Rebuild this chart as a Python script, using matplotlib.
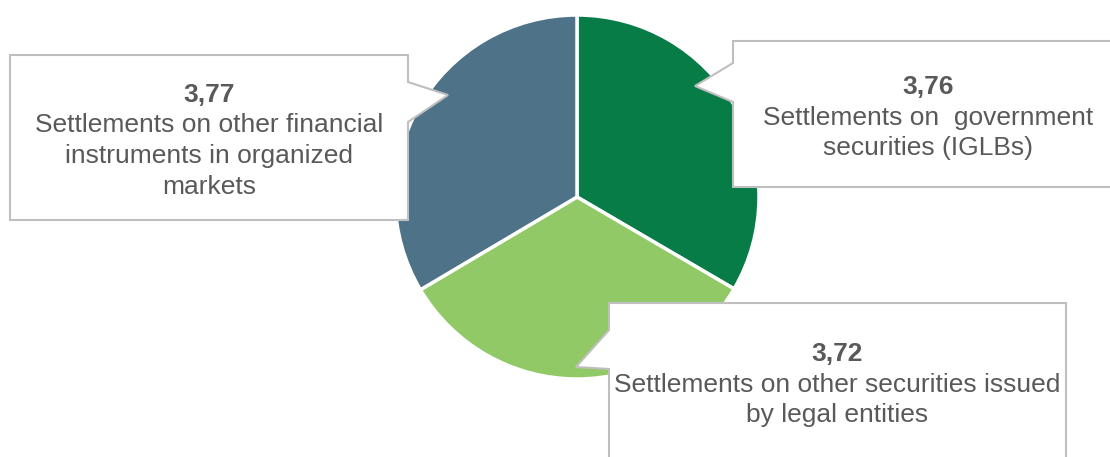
import matplotlib
matplotlib.use("Agg")
import matplotlib.pyplot as plt
from matplotlib.patches import Polygon

# ---- data ----
categories = [
    "Settlements on  government\nsecurities (IGLBs)",
    "Settlements on other securities issued\nby legal entities",
    "Settlements on other financial\ninstruments in organized\nmarkets",
]
values = [3.76, 3.72, 3.77]
value_labels = ["3,76", "3,72", "3,77"]
colors = ["#087C47", "#92C967", "#4E7389"]

W, H = 1110, 457
plt.rcParams['font.family'] = ['Liberation Sans', 'DejaVu Sans']
fig = plt.figure(figsize=(W / 100, H / 100), dpi=100)
ax = fig.add_axes([0, 0, 1, 1])
ax.set_xlim(0, W)
ax.set_ylim(0, H)
ax.set_aspect('equal')
ax.axis('off')

def Y(y):
    return H - y

ax.pie(values, colors=colors, startangle=90, counterclock=False,
       center=(577, Y(197)), radius=182,
       wedgeprops=dict(edgecolor='white', linewidth=2.5))
ax.set_xlim(0, W)
ax.set_ylim(0, H)
ax.set_aspect('equal')
ax.axis('off')

# callout shapes (pixel layout)
callouts = [
    # right (IGLBs)
    dict(poly=[(733, 41), (1115, 41), (1115, 187), (733, 187), (733, 102), (695, 86), (733, 63)],
         cx=928, y0=87),
    # bottom (legal entities)
    dict(poly=[(609, 303), (1066, 303), (1066, 470), (609, 470), (609, 369), (576, 367), (609, 330)],
         cx=837, y0=354),
    # left (organized markets)
    dict(poly=[(10, 55), (408, 55), (408, 82), (448, 95), (408, 122), (408, 220), (10, 220)],
         cx=209, y0=95),
]

txt_color = "#595959"
fs = 19
spacing = 30.5
for i, c in enumerate(callouts):
    pts = [(x, Y(y)) for x, y in c['poly']]
    ax.add_patch(Polygon(pts, closed=True, facecolor='white', edgecolor='#BFBFBF',
                         linewidth=1.5, zorder=5))
    ax.text(c['cx'], Y(c['y0']), value_labels[i], ha='center', va='center',
            fontsize=fs, fontweight='bold', color=txt_color, zorder=6)
    for j, line in enumerate(categories[i].split('\n')):
        ax.text(c['cx'], Y(c['y0'] + spacing * (j + 1)), line, ha='center', va='center',
                fontsize=fs, color=txt_color, zorder=6)

fig.savefig("out.png", dpi=100)
